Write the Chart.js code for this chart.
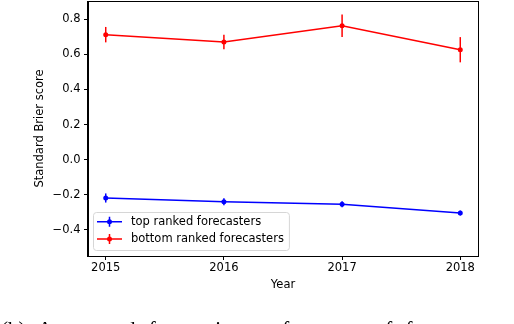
<!doctype html>
<html>
  <head>
    <meta charset="UTF-8">
    <title>Standard Brier score by year</title>
    <style>
      html, body { margin: 0; padding: 0; background: #fff; }
      #wrap { position: relative; width: 514px; height: 324px; overflow: hidden; }
      /* Chart.js の点サイズ分の余白 (4px) を打ち消すため上にずらす */
      #chart-box { position: absolute; left: 0; top: -3px; width: 514px; height: 327px; }
      #caption {
        position: absolute; left: 1px; top: 319px; white-space: nowrap; word-spacing: 8px;
        font-family: "Liberation Serif", "DejaVu Serif", serif; font-size: 21px; line-height: 21px; color: #000;
      }
    </style>
  </head>
  <body>
    <div id="wrap">
      <div id="chart-box"><canvas id="myChart"></canvas></div>
      <div id="caption">(b) Aggregated forecasting performance of forecasters</div>
    </div>

    <script src="https://cdn.jsdelivr.net/npm/chart.js"></script>
    <script>
      // データ
      var years = [2015, 2016, 2017, 2018];
      var top_mean = [-0.219, -0.240, -0.255, -0.305];
      var top_err = [0.026, 0.020, 0.017, 0.014];
      var bottom_mean = [0.713, 0.671, 0.764, 0.627];
      var bottom_err = [0.044, 0.042, 0.064, 0.072];
      var y_ticks = [-0.4, -0.2, 0.0, 0.2, 0.4, 0.6, 0.8];

      var FONT = "'DejaVu Sans', sans-serif";
      var FS = 11.5;

      function toPoints(mean){
        return years.map(function(y, i){ return {x: y, y: mean[i]}; });
      }

      // エラーバー
      var errorBars = {
        id: 'errorBars',
        afterDatasetsDraw: function(chart){
          var ctx = chart.ctx;
          var xs = chart.scales.x, ys = chart.scales.y;
          chart.data.datasets.forEach(function(ds){
            ctx.save();
            ctx.strokeStyle = ds.borderColor;
            ctx.lineWidth = 1.5;
            ds.errors.forEach(function(e, i){
              var px = xs.getPixelForValue(ds.data[i].x);
              ctx.beginPath();
              ctx.moveTo(px, ys.getPixelForValue(ds.data[i].y - e));
              ctx.lineTo(px, ys.getPixelForValue(ds.data[i].y + e));
              ctx.stroke();
            });
            ctx.restore();
          });
        }
      };

      // 枠と凡例
      var frameLegend = {
        id: 'frameLegend',
        afterDraw: function(chart){
          var ctx = chart.ctx, a = chart.chartArea;
          ctx.save();
          ctx.strokeStyle = '#000';
          ctx.lineWidth = 1;
          ctx.strokeRect(Math.round(a.left) - 0.5, Math.round(a.top) + 0.5,
                         Math.round(a.right - a.left) + 1, Math.round(a.bottom - a.top));

          ctx.font = FS + 'px ' + FONT;
          var tw = 0;
          chart.data.datasets.forEach(function(ds){ tw = Math.max(tw, ctx.measureText(ds.label).width); });
          var bx = a.left + 5, bh = 38, bw = 38 + tw + 5, by = a.bottom - 6 - bh;
          ctx.beginPath();
          ctx.roundRect(bx + 0.5, by + 0.5, bw, bh, 3);
          ctx.fillStyle = 'rgba(255,255,255,0.8)';
          ctx.fill();
          ctx.strokeStyle = '#d6d6d6';
          ctx.stroke();

          chart.data.datasets.forEach(function(ds, i){
            var ry = by + 9.7 + i * 17.3;
            var hx = bx + 4, hc = hx + 12.5;
            ctx.strokeStyle = ds.borderColor;
            ctx.lineWidth = 1.5;
            ctx.beginPath();
            ctx.moveTo(hx, ry); ctx.lineTo(hx + 25, ry);
            ctx.moveTo(hc, ry - 5); ctx.lineTo(hc, ry + 5);
            ctx.stroke();
            ctx.fillStyle = ds.borderColor;
            ctx.beginPath();
            ctx.arc(hc, ry, 2.5, 0, Math.PI * 2);
            ctx.fill();
            ctx.fillStyle = '#000';
            ctx.textBaseline = 'middle';
            ctx.textAlign = 'left';
            ctx.fillText(ds.label, bx + 38, ry);
          });
          ctx.restore();
        }
      };

      var ctx = document.getElementById('myChart');
      var myChart = new Chart(ctx, {
        type: 'line',
        data: {
          datasets: [{
            label: 'top ranked forecasters',
            data: toPoints(top_mean),
            errors: top_err,
            borderColor: '#0000ff',
            backgroundColor: '#0000ff',
            borderWidth: 1.5,
            pointRadius: 2.5,
            pointBorderWidth: 0,
            tension: 0
          }, {
            label: 'bottom ranked forecasters',
            data: toPoints(bottom_mean),
            errors: bottom_err,
            borderColor: '#ff0000',
            backgroundColor: '#ff0000',
            borderWidth: 1.5,
            pointRadius: 2.5,
            pointBorderWidth: 0,
            tension: 0
          }]
        },
        options: {
          responsive: true,
          maintainAspectRatio: false,
          animation: false,
          layout: { padding: { left: 0, right: 36, top: 0, bottom: 0 } },
          plugins: { legend: { display: false }, tooltip: { enabled: false } },
          scales: {
            x: {
              type: 'linear',
              min: 2014.85,
              max: 2018.15,
              afterBuildTicks: function(s){ s.ticks = years.map(function(v){ return {value: v}; }); },
              afterFit: function(s){ s.height = 68; s.paddingLeft = 0; s.paddingRight = 0; },
              grid: { drawOnChartArea: false, drawTicks: true, tickLength: 4, color: '#000', lineWidth: 1 },
              border: { display: true, color: '#000', width: 1 },
              ticks: {
                color: '#000', padding: 1, maxRotation: 0,
                font: { family: FONT, size: FS },
                callback: function(v){ return String(v); }
              },
              title: {
                display: true, text: 'Year', color: '#000',
                font: { family: FONT, size: FS },
                padding: { top: 0, bottom: 32 }
              }
            },
            y: {
              min: -0.55,
              max: 0.905,
              afterBuildTicks: function(s){ s.ticks = y_ticks.map(function(v){ return {value: v}; }); },
              afterFit: function(s){ s.width = 88; s.paddingTop = 0; s.paddingBottom = 0; },
              grid: { drawOnChartArea: false, drawTicks: true, tickLength: 4, color: '#000', lineWidth: 1 },
              border: { display: true, color: '#000', width: 1 },
              ticks: {
                color: '#000', padding: 3.5,
                font: { family: FONT, size: FS },
                callback: function(v){ return v.toFixed(1).replace('-', '\u2212'); }
              },
              title: {
                display: true, text: 'Standard Brier score', color: '#000',
                font: { family: FONT, size: FS },
                padding: { top: 33, bottom: 0 }
              }
            }
          }
        },
        plugins: [errorBars, frameLegend]
      });
    </script>
  </body>
</html>
